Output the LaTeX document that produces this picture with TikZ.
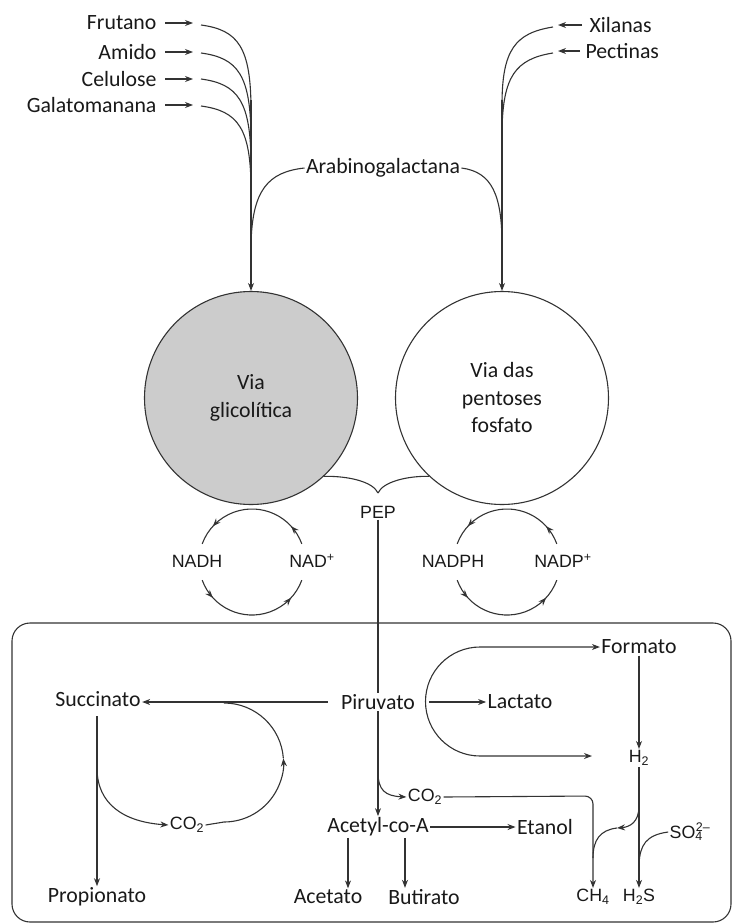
\documentclass[tikz,border=0pt]{standalone}
\usepackage{fontspec}
\setmainfont{Carlito}
\newfontfamily\helv{Liberation Sans}
\usetikzlibrary{arrows.meta,decorations.markings}
\tikzset{>={Stealth[length=8pt,width=6pt]}}
\colorlet{penColor}{black!80}
\colorlet{glyColor}{black!20}
\tikzset{
  lbl/.style={font=\fontsize{21.8}{27.5}\selectfont,text=black!90,inner sep=1pt},
  chem/.style={font=\helv\fontsize{17.8}{21}\selectfont,text=black!90,inner sep=1pt},
  via/.style={circle,draw=penColor,minimum size=213pt,align=center,lbl},
  cycarrow/.style={decoration={markings,
      mark=at position 0.16 with {\arrow{>}},
      mark=at position 0.84 with {\arrow{>}}},postaction={decorate}}
}

\begin{document}
\begin{tikzpicture}[x=1pt,y=1pt,line width=1.1pt,draw=penColor]
\useasboundingbox (0,0) rectangle (734,-924);
% substrates on the left
\foreach \name/\txt/\y in {fru/Frutano/23,ami/Amido/52,cel/Celulose/79,gal/Galatomanana/105}{
  \node[lbl,anchor=east] (\name) at (158,-\y) {\txt};
  \draw[->] ([xshift=7pt]\name.east) -- ++(28,0);
}
\foreach \y/\e in {25/110,53/140,79/165,106/190}
  \draw (201,-\y) .. controls (238,-\y-5) and (251,-\y-22) .. (251,-\e);
% substrates on the right
\node[lbl,anchor=west] (xil) at (588,-25) {Xilanas};
\node[lbl,anchor=west] (pec) at (584,-51) {Pectinas};
\draw[->] ([xshift=-6pt]xil.west) -- (558,-25);
\draw[->] ([xshift=-4pt]pec.west) -- (558,-51);
\draw (553,-27) .. controls (515,-33) and (502,-50) .. (502,-105);
\draw (553,-53) .. controls (515,-59) and (503,-77) .. (502,-130);
\node[lbl] (arab) at (383,-168) {Arabinogalactana};
\draw (arab.west) .. controls (268,-172) and (252,-190) .. (251,-245);
\draw (arab.east) .. controls (492,-172) and (502,-195) .. (502,-245);
% the two pathways
\node[via,fill=glyColor] (gly) at (251,-398) {Via\\glicolítica};
\node[via] (ppp) at (502,-398) {Via das\\pentoses\\fosfato};
\draw[->] (251,-100) -- (gly.north);
\draw[->] (502,-100) -- (ppp.north);
\node[chem] (pep) at (378,-512) {PEP};
\draw (gly.-47) .. controls (350,-476) and (373,-482) .. (378,-493);
\draw (ppp.227) .. controls (406,-476) and (383,-482) .. (378,-493);
% cofactor cycles
\node[chem] (nadh) at (197,-561) {NADH};
\node[chem] (nad) at (312,-561) {NAD\textsuperscript{+}};
\node[chem] (nadph) at (453,-561) {NADPH};
\node[chem] (nadp) at (563,-561) {NADP\textsuperscript{+}};
\foreach \cx in {252,507}{
  \draw[cycarrow] ([shift={(20:53)}]\cx,-562) arc[start angle=20,end angle=160,radius=53];
  \draw[cycarrow] ([shift={(200:53)}]\cx,-562) arc[start angle=200,end angle=340,radius=53];
}
% fermentation box
\draw[rounded corners=18] (12,-623) rectangle (731,-922);
\node[lbl] (pir) at (378,-702) {Piruvato};
\node[lbl] (suc) at (98,-699) {Succinato};
\node[lbl] (prop) at (97,-897) {Propionato};
\node[chem] (co2a) at (187,-825) {CO\textsubscript{2}};
\node[lbl] (lac) at (520,-702) {Lactato};
\node[lbl] (form) at (639,-647) {Formato};
\node[chem] (htwo) at (639,-758) {H\textsubscript{2}};
\node[chem] (co2b) at (425,-797) {CO\textsubscript{2}};
\node[lbl] (acet) at (378,-827) {Acetyl-co-A};
\node[lbl] (etan) at (545,-827) {Etanol};
\node[lbl] (acetato) at (328,-897) {Acetato};
\node[lbl] (but) at (424,-897) {Butirato};
\node[chem] (chfour) at (593,-897) {CH\textsubscript{4}};
\node[chem] (hts) at (639,-897) {H\textsubscript{2}S};
\node[chem] (sofour) at (690,-832) {SO\textsubscript{\rlap{4}}\textsuperscript{2–}};
\draw (pep.south) -- (pir.north);
\draw[->] ([xshift=-12pt]pir.west) -- (suc.east |- pir.west);
\draw[->] (co2a.east) -- (224,-822) arc[start angle=-90,end angle=4,radius=59.5];
\draw (224,-762.5) ++(4:59.5) arc[start angle=4,end angle=90,radius=59.5];
\draw[->] (97,-716) -- (prop.north);
\draw[->] (97,-768) .. controls (97,-805) and (125,-822) .. (co2a.west);
\draw[->] (pir.south) -- (acet.north);
\draw[->] (378,-772) .. controls (378,-790) and (385,-796) .. (co2b.west);
\draw[->,rounded corners=8] (co2b.east) -- (593,-796) -- (chfour.north);
\draw[->] (acet.east) -- (etan.west);
\draw[->] ([xshift=-30pt]acet.south) -- ([xshift=-30pt]acet.south |- acetato.north);
\draw[->] ([xshift=27pt]acet.south) -- ([xshift=27pt]acet.south |- but.north);
\draw[->] ([xshift=13pt]pir.east) -- (lac.west);
\coordinate (hin) at (592,-756);
\draw[<->] (form.west) -- (480,-647) arc[start angle=90,end angle=270,radius=54.5] -- (hin);
\draw[->] (form.south) -- (htwo.north);
\draw[->] (htwo.south) -- (hts.north);
\draw[->] (639,-806) .. controls (639,-822) and (630,-827) .. (617,-828);
\draw (617,-828) .. controls (600,-830) and (593,-840) .. (593,-858);
\draw (sofour.west) .. controls (646,-835) and (640,-845) .. (639,-864);
\end{tikzpicture}
\end{document}
